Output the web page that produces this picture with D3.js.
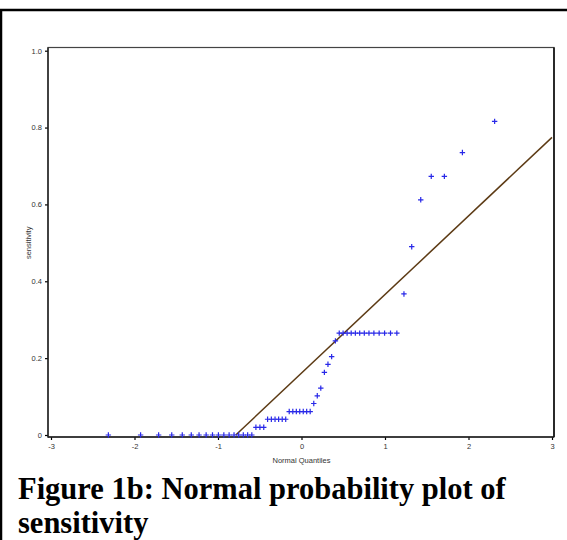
<!DOCTYPE html>
<html><head><meta charset="utf-8">
<script src="https://cdn.jsdelivr.net/npm/d3@7"></script>
<style>
html,body{margin:0;padding:0;background:#fff;}
svg{display:block;}
</style></head>
<body>
<svg id="c" width="567" height="540"></svg>
<script>
// Normal quantiles (x) and sorted sensitivity values (y)
const quantiles = [-2.313,-1.927,-1.711,-1.554,-1.428,-1.320,-1.227,-1.142,-1.066,-0.995,
  -0.930,-0.867,-0.808,-0.752,-0.697,-0.645,-0.595,-0.546,-0.498,-0.452,
  -0.406,-0.361,-0.317,-0.274,-0.231,-0.189,-0.147,-0.104,-0.062,-0.021,
  0.021,0.062,0.104,0.147,0.189,0.231,0.274,0.317,0.361,0.406,
  0.452,0.498,0.546,0.595,0.645,0.697,0.752,0.808,0.867,0.930,
  0.995,1.066,1.142,1.227,1.320,1.428,1.554,1.711,1.927,2.313];
const sensitivity = [0,0,0,0,0,0,0,0,0,0,
  0,0,0,0,0,0,0,0.020,0.020,0.020,
  0.041,0.041,0.041,0.041,0.041,0.041,0.061,0.061,0.061,0.061,
  0.061,0.061,0.061,0.082,0.102,0.122,0.163,0.184,0.204,0.245,
  0.265,0.265,0.265,0.265,0.265,0.265,0.265,0.265,0.265,0.265,
  0.265,0.265,0.265,0.367,0.490,0.612,0.673,0.673,0.735,0.816];
const lineIntercept = 0.161;
const lineSlope = 0.2045;
const xTicks = [-3,-2,-1,0,1,2,3];
const xTickLabels = ["-3","-2","-1","0","1","2","3"];
const yTicks = [0,0.2,0.4,0.6,0.8,1.0];
const yTickLabels = ["0","0.2","0.4","0.6","0.8","1.0"];
const xTitle = "Normal Quantiles";
const yTitle = "sensitivity";
const captionLines = ["Figure 1b: Normal probability plot of","sensitivity"];

const svg = d3.select("#c");
const W = 567, H = 540;

// outer frame (top and left)
svg.append("line").attr("x1",0).attr("x2",W).attr("y1",10).attr("y2",10)
  .attr("stroke","#000").attr("stroke-width",2.5);
svg.append("line").attr("x1",1).attr("x2",1).attr("y1",9).attr("y2",H)
  .attr("stroke","#000").attr("stroke-width",2.5);

const x = d3.scaleLinear().domain([-3,3]).range([51,552]);
const y = d3.scaleLinear().domain([0,1]).range([435,50.7]);

const boxL=48, boxR=554, boxT=47.5, boxB=437;
svg.append("rect").attr("x",boxL).attr("y",boxT).attr("width",boxR-boxL).attr("height",boxB-boxT)
  .attr("fill","none").attr("stroke","#444").attr("stroke-width",1.2);

const fontSm = "'Liberation Sans', Arial, sans-serif";

// x axis
const xa = svg.append("g").attr("transform",`translate(0,${boxB})`)
  .call(d3.axisBottom(x).tickValues(xTicks).tickSize(3).tickPadding(4)
    .tickFormat((d,i)=>xTickLabels[i]));
xa.select(".domain").remove();
xa.selectAll("line").attr("stroke","#000").attr("stroke-width",1.2);
xa.selectAll("text").attr("font-family",fontSm).attr("font-size",7.5).attr("fill","#333");

// y axis
const ya = svg.append("g").attr("transform",`translate(${boxL},0)`)
  .call(d3.axisLeft(y).tickValues(yTicks).tickSize(3).tickPadding(3)
    .tickFormat((d,i)=>yTickLabels[i]));
ya.select(".domain").remove();
ya.selectAll("line").attr("stroke","#000").attr("stroke-width",1.2);
ya.selectAll("text").attr("font-family",fontSm).attr("font-size",7.5).attr("fill","#333");

// axis lines
svg.append("line").attr("x1",boxL).attr("x2",boxL).attr("y1",boxT).attr("y2",boxB+0.5)
  .attr("stroke","#222").attr("stroke-width",1.4);
svg.append("line").attr("x1",boxL).attr("x2",boxR).attr("y1",boxB).attr("y2",boxB)
  .attr("stroke","#222").attr("stroke-width",1.4);
svg.append("line").attr("x1",boxR).attr("x2",boxR).attr("y1",boxT).attr("y2",boxB)
  .attr("stroke","#111").attr("stroke-width",1.6);

// axis titles
svg.append("text").attr("x",(x(-3)+x(3))/2).attr("y",463)
  .attr("text-anchor","middle").attr("font-family",fontSm).attr("font-size",7.5).attr("fill","#333")
  .text(xTitle);
svg.append("text").attr("transform",`translate(31,${(y(0)+y(1))/2}) rotate(-90)`)
  .attr("text-anchor","middle").attr("font-family",fontSm).attr("font-size",7.5).attr("fill","#333")
  .text(yTitle);

// reference line
const x0 = -lineIntercept/lineSlope;
svg.append("line")
  .attr("x1",x(x0)).attr("y1",y(0))
  .attr("x2",x(3)).attr("y2",y(lineIntercept+lineSlope*3))
  .attr("stroke","#5c3a14").attr("stroke-width",1.5);

// points
const pts = quantiles.map((q,i)=>({q, s: sensitivity[i]}));
svg.append("g").selectAll("path").data(pts).enter().append("path")
  .attr("d","M-2.7,0H2.7M0,-2.7V2.7")
  .attr("transform",d=>`translate(${x(d.q)},${y(d.s)})`)
  .attr("stroke","#2828e8").attr("stroke-width",1.2).attr("fill","none");

// caption
const cap = svg.append("text").attr("font-family","'Liberation Serif','Times New Roman',serif")
  .attr("font-weight","bold").attr("font-size",30.5).attr("fill","#000");
captionLines.forEach((t,i)=>{
  cap.append("tspan").attr("x",18).attr("y",499+i*34).text(t);
});
</script>
</body></html>
